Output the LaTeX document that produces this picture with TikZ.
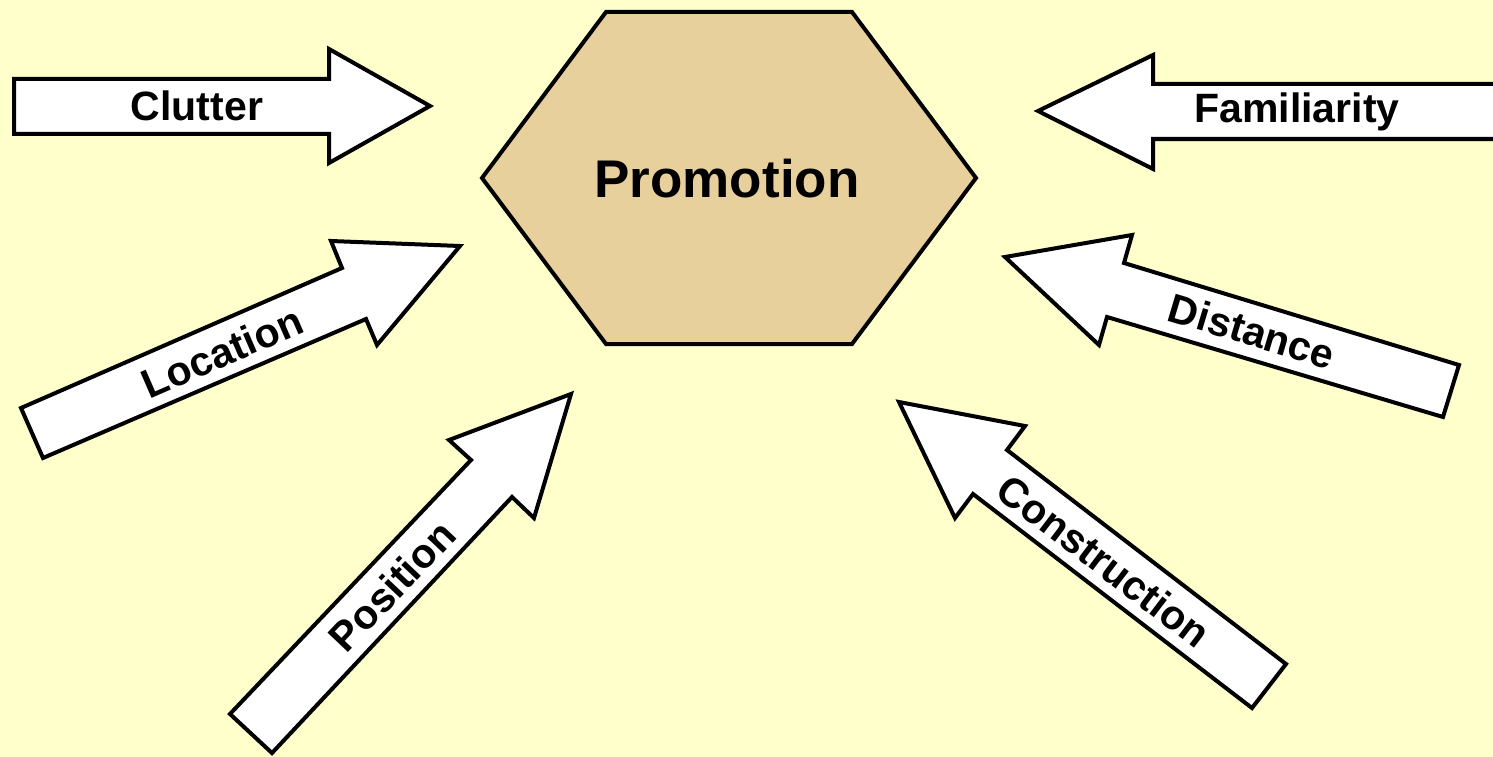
\documentclass[tikz,border=0pt]{standalone}
\usepackage{fontspec}
\setmainfont{Liberation Sans}
\definecolor{bgyellow}{HTML}{FFFFCC}
\definecolor{hextan}{HTML}{E7D09B}
\tikzset{
  blockarrow/.style={draw=black, fill=white, line width=4pt, line join=miter, miter limit=10},
  hexbox/.style={draw=black, fill=hextan, line width=4pt, line join=miter},
  lbl/.style={font=\bfseries\fontsize{41}{41}\selectfont, inner sep=0pt, anchor=center},
  biglbl/.style={font=\bfseries\fontsize{53}{53}\selectfont, inner sep=0pt, anchor=center}
}
\begin{document}
\begin{tikzpicture}[x=1pt,y=-1pt]
\useasboundingbox (0,0) rectangle (1493,757);
\fill[bgyellow] (0,0) rectangle (1493,757);
\clip (0,0) rectangle (1493,757);
% hexagon
\draw[hexbox] (482,178) -- (606,12) -- (852,12) -- (976,178) -- (852,344) -- (606,344) -- cycle;
\node[biglbl] (promotion) at (727,179) {Promotion};
% Clutter
\draw[blockarrow] (14,79) -- (329,79) -- (329,49) -- (430,106) -- (329,163) -- (329,134) -- (14,134) -- cycle;
\node[lbl] (clutter) at (197,106) {Clutter};
% Familiarity
\draw[blockarrow] (1038,111) -- (1153,55) -- (1153,84) -- (1500,84) -- (1500,139) -- (1153,139) -- (1153,169) -- cycle;
\node[lbl] (familiarity) at (1297,112) {Familiarity};
% Location
\draw[blockarrow] (21,408) -- (342,268) -- (331,241) -- (460,246) -- (377,345) -- (366,319) -- (43,458) -- cycle;
\node[lbl, rotate=23.5] (location) at (222,352) {Location};
% Position
\draw[blockarrow] (230,714) -- (471,460) -- (449,440) -- (571,394) -- (534,518) -- (512,497) -- (272,753) -- cycle;
\node[lbl, rotate=46.5] (position) at (392,586) {Position};
% Distance
\draw[blockarrow] (1005,257) -- (1132,235) -- (1124,263) -- (1459,365) -- (1443,417) -- (1107,317) -- (1099,345) -- cycle;
\node[lbl, rotate=-16.7] (distance) at (1252,331) {Distance};
% Construction
\draw[blockarrow] (899,402) -- (1025,426) -- (1007,450) -- (1286,664) -- (1252,708) -- (973,494) -- (955,518) -- cycle;
\node[lbl, rotate=-37.3] (construction) at (1104,561) {Construction};
\end{tikzpicture}
\end{document}
